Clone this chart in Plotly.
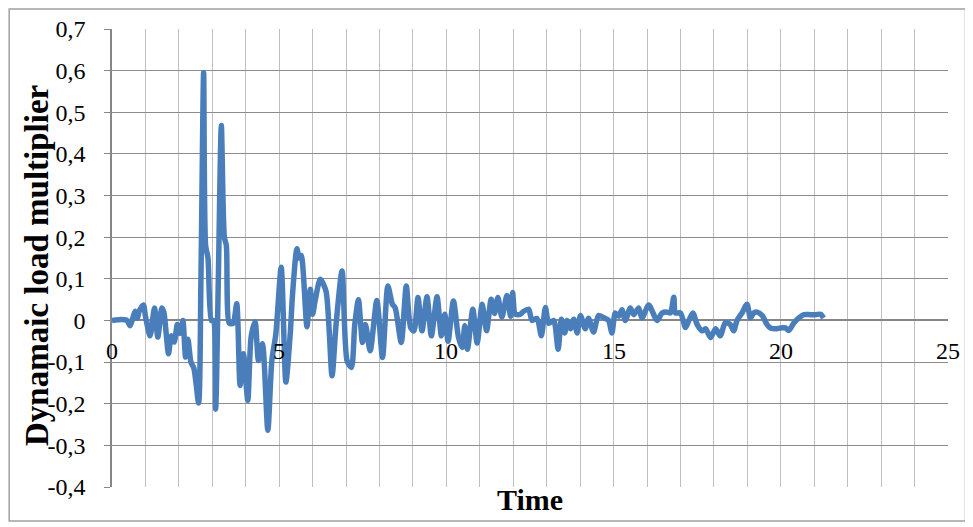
import plotly.graph_objects as go

time = [0.00, 0.30, 0.45, 0.54, 0.62, 0.69, 0.76, 0.81, 0.94, 1.00, 1.14, 1.27, 1.37, 1.49, 1.55,
        1.69, 1.77, 1.86, 1.95, 2.00, 2.05, 2.12, 2.20, 2.27, 2.36, 2.45, 2.59, 2.66, 2.74, 2.80,
        2.87, 2.97, 3.03, 3.10, 3.18, 3.27, 3.36, 3.42, 3.51, 3.62, 3.73, 3.83, 3.93, 4.06, 4.16,
        4.28, 4.38, 4.50, 4.66, 4.78, 4.90, 5.06, 5.20, 5.33, 5.40, 5.53, 5.60, 5.66, 5.83, 5.93,
        6.00, 6.08, 6.23, 6.40, 6.58, 6.70, 6.88, 7.03, 7.16, 7.26, 7.37, 7.49, 7.58, 7.72, 7.92,
        8.09, 8.25, 8.38, 8.47, 8.65, 8.80, 8.93, 9.03, 9.15, 9.27, 9.42, 9.55, 9.72, 9.85, 9.95,
        10.05, 10.21, 10.36, 10.47, 10.55, 10.63, 10.79, 10.92, 11.07, 11.20, 11.34, 11.44, 11.54,
        11.66, 11.81, 11.92, 11.98, 12.06, 12.21, 12.31, 12.46, 12.56, 12.71, 12.84, 12.96, 13.06,
        13.21, 13.34, 13.44, 13.54, 13.61, 13.71, 13.81, 13.91, 14.01, 14.15, 14.25, 14.40, 14.55,
        14.75, 14.85, 14.95, 15.05, 15.15, 15.25, 15.35, 15.50, 15.60, 15.75, 15.85, 16.05, 16.30,
        16.45, 16.60, 16.70, 16.80, 16.85, 17.00, 17.15, 17.25, 17.37, 17.50, 17.65, 17.75, 17.90,
        18.05, 18.19, 18.34, 18.49, 18.59, 18.69, 18.84, 18.99, 19.09, 19.19, 19.29, 19.44, 19.59,
        19.69, 19.84, 19.99, 20.14, 20.24, 20.39, 20.54, 20.69, 20.89, 21.04, 21.19, 21.28]

multiplier = [0.000, 0.002, 0.000, -0.013, 0.005, 0.022, 0.005, 0.022, 0.037, 0.010, -0.037, 0.030,
              -0.040, 0.030, 0.020, -0.080, -0.037, -0.052, -0.010, -0.030, -0.030, 0.000, -0.088,
              -0.045, -0.100, -0.115, -0.198, 0.100, 0.595, 0.180, 0.150, 0.000, 0.000, -0.213,
              0.100, 0.468, 0.200, 0.180, -0.007, -0.007, 0.040, -0.156, -0.080, -0.192, -0.040,
              -0.004, -0.096, -0.056, -0.264, -0.096, -0.032, 0.128, -0.148, -0.032, 0.064, 0.172,
              0.150, 0.156, -0.015, 0.075, 0.015, 0.050, 0.099, 0.070, -0.133, -0.010, 0.119,
              -0.097, -0.113, -0.010, 0.050, -0.053, -0.010, -0.073, 0.048, -0.089, 0.083, 0.040,
              0.030, -0.053, 0.083, -0.017, -0.025, 0.055, -0.025, 0.057, -0.037, 0.057, -0.037,
              0.015, -0.050, 0.047, -0.040, -0.065, -0.013, -0.069, 0.027, -0.054, 0.039, -0.025,
              0.051, 0.017, 0.055, 0.008, 0.060, 0.010, 0.067, 0.015, 0.015, 0.022, 0.027, 0.000,
              0.005, -0.037, 0.031, -0.007, 0.000, -0.069, 0.003, -0.030, 0.000, -0.020, 0.003,
              -0.030, 0.012, -0.020, 0.005, -0.028, 0.012, 0.005, 0.000, -0.030, 0.018, 0.010,
              0.026, 0.000, 0.030, 0.014, 0.030, 0.006, 0.037, 0.000, 0.018, 0.020, 0.018, 0.056,
              0.018, 0.018, -0.017, 0.000, 0.018, -0.010, -0.025, -0.020, -0.041, -0.020, -0.037,
              -0.005, -0.010, -0.025, 0.000, 0.018, 0.039, 0.006, 0.018, 0.020, 0.012, -0.010,
              -0.018, -0.020, -0.018, -0.018, -0.024, -0.006, 0.006, 0.014, 0.014, 0.014, 0.015,
              0.006]

x_tick_vals = [0, 5, 10, 15, 20, 25]
x_tick_text = ["0", "5", "10", "15", "20", "25"]
x_grid_vals = list(range(0, 25))
y_tick_vals = [-0.4, -0.3, -0.2, -0.1, 0.0, 0.1, 0.2, 0.3, 0.4, 0.5, 0.6, 0.7]
y_tick_text = ["-0,4", "-0,3", "-0,2", "-0,1", "0", "0,1", "0,2", "0,3", "0,4", "0,5", "0,6", "0,7"]

x_title = "Time"
y_title = "Dynamaic load multiplier"

FONT = "Liberation Serif"
AXIS_GRAY = "#868686"
HGRID = "#8c8c8c"
VGRID = "#c0c0c0"

fig = go.Figure()
fig.add_trace(go.Scatter(x=time, y=multiplier, mode="lines",
                         line=dict(color="#4A7EBB", width=5.5, shape="spline", smoothing=0.7),
                         showlegend=False, hoverinfo="x+y"))

# x tick labels sit just under the y = 0 axis line (Excel style crossing axis)
annotations = [
    dict(text=txt, x=val, y=0, xref="x", yref="y", xanchor="center", yanchor="middle",
         yshift=-31, showarrow=False, font=dict(family=FONT, size=24, color="black"))
    for val, txt in zip(x_tick_vals, x_tick_text)
]
annotations += [
    dict(text="<b>" + y_title + "</b>", xref="paper", yref="paper",
         x=-0.0895, y=0.483, xanchor="center", yanchor="middle", textangle=-90,
         showarrow=False, font=dict(family=FONT, size=33, color="black")),
    dict(text="<b>" + x_title + "</b>", xref="paper", yref="paper",
         x=0.5, y=-0.028, xanchor="center", yanchor="middle",
         showarrow=False, font=dict(family=FONT, size=30, color="black")),
]

# the page body has an 8px margin, so the figure is 8px smaller and margins shifted by 8px
fig.update_layout(
    width=965, height=519,
    margin=dict(l=104, r=25, t=21, b=40, autoexpand=False),
    paper_bgcolor="white", plot_bgcolor="white",
    font=dict(family=FONT, size=24, color="black"),
    xaxis=dict(range=[0, 25], tickvals=x_grid_vals, showticklabels=False,
               showgrid=True, gridcolor=VGRID, gridwidth=1.3, zeroline=False,
               showline=False, ticks="", automargin=False),
    yaxis=dict(range=[-0.4, 0.7], tickvals=y_tick_vals, ticktext=y_tick_text,
               showgrid=True, gridcolor=HGRID, gridwidth=1.2,
               zeroline=True, zerolinecolor=AXIS_GRAY, zerolinewidth=1.5,
               showline=True, linecolor=AXIS_GRAY, linewidth=1.5,
               ticks="outside", ticklen=6, tickcolor=AXIS_GRAY, tickwidth=1.2,
               ticklabelstandoff=14, automargin=False,
               tickfont=dict(family=FONT, size=24, color="black")),
    annotations=annotations,
    shapes=[dict(type="rect", xref="paper", yref="paper",
                 x0=-0.123, x1=1.0209, y0=-0.0742, y1=1.0437,
                 line=dict(color="#a0a0a0", width=1.5))],
)

fig.write_html("out.html")
